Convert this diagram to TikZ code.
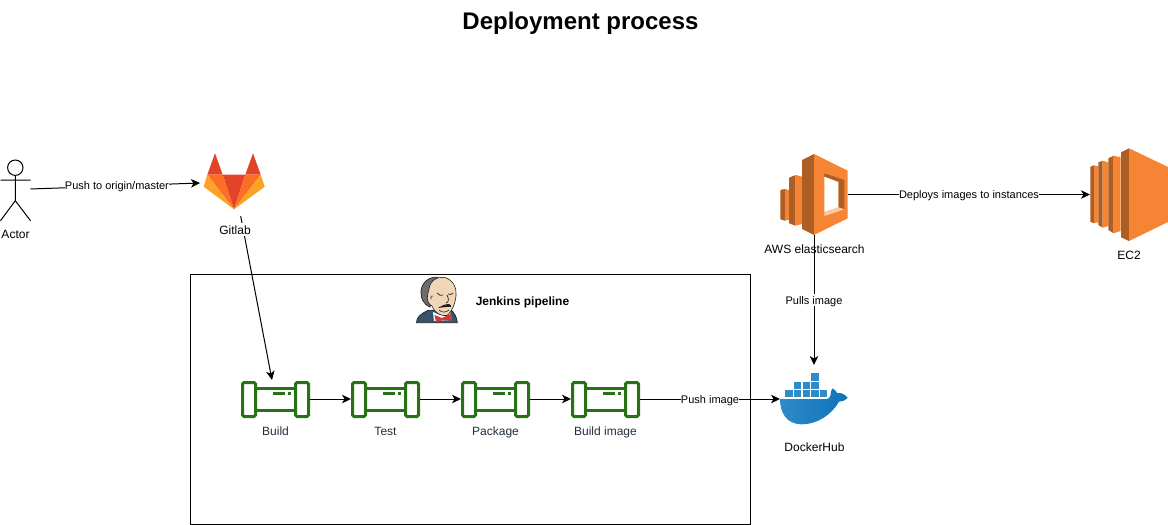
\documentclass[tikz,border=0pt]{standalone}
\usepackage{fontspec}
\setmainfont{Liberation Sans}
\usetikzlibrary{arrows.meta}
\definecolor{awsl}{HTML}{F58534}
\definecolor{awsd}{HTML}{AD5E24}
\definecolor{awsw}{HTML}{FBC9A0}
\definecolor{pipeg}{HTML}{277116}
\definecolor{labelc}{HTML}{232F3E}
\definecolor{glr}{HTML}{E24329}
\definecolor{glo}{HTML}{FC6D26}
\definecolor{gll}{HTML}{FCA326}
\definecolor{dock}{HTML}{2F8AC9}
\definecolor{dockb}{HTML}{0F72B8}
\definecolor{jcoat}{HTML}{33546E}
\definecolor{jline}{HTML}{231F20}
\definecolor{jskin}{HTML}{F0D6B7}
\definecolor{jhair}{HTML}{6E6B6D}
\definecolor{jred}{HTML}{D33833}
\tikzset{
  x=1pt,y=-1pt,
  every node/.style={font=\fontsize{11}{13}\selectfont,inner sep=0pt,outer sep=0pt},
  tip/.style={-{Stealth[length=9pt,width=8.5pt,inset=2.5pt]}},
  conn/.style={draw=black,line width=1pt,tip},
  edgelabel/.style={fill=white,font=\fontsize{11}{13}\selectfont,inner xsep=0pt,inner ysep=2pt,text height=8pt,text depth=0pt},
  iconlabel/.style={font=\fontsize{12}{14}\selectfont,anchor=base},
  box/.style={draw=black,line width=1pt,fill=white},
  pipepart/.style={draw=pipeg,line width=3pt,fill=white,rounded corners=1.5pt},
  pipenode/.style={minimum width=69pt,minimum height=36pt,anchor=north west},
  pipelabel/.style={font=\fontsize{12}{14}\selectfont,text=labelc,anchor=base},
  pics/pipe/.style={code={
    \draw[pipepart,rounded corners=0pt] (13,6) rectangle (53,27.5);
    \draw[pipepart] (0,0) rectangle (13,34);
    \draw[pipepart] (53,0) rectangle (66,34);
    \draw[draw=pipeg,line width=3pt] (30.5,10.5) -- (42.5,10.5) (45.5,10.5) -- (48.5,10.5);
  }},
}
\begin{document}
\begin{tikzpicture}
\useasboundingbox (0,0) rectangle (1168,525);
\fill[white] (0,0) rectangle (1168,525);

% title
\node[font=\fontsize{24}{28}\selectfont\bfseries,anchor=base] (title) at (580.5,29) {Deployment process};

% jenkins box
\node[box,minimum width=560pt,minimum height=250pt,anchor=north west] (pipeline) at (190.5,274) {};
\node[font=\fontsize{12}{14}\selectfont\bfseries,anchor=base] (pipelabel) at (522.5,305.5) {Jenkins pipeline};

% actor
\node[minimum width=30pt,minimum height=61pt] (actor) at (15.5,190) {};
\draw[line width=1pt] (15.3,167.7) circle (7.7);
\draw[line width=1pt] (15.3,175.4) -- (15.3,200.7) (0.5,180) -- (30.5,180)
  (0.5,220.7) -- (15.3,200.7) -- (30.5,220.7);
\node[iconlabel] (actorlabel) at (15.5,238.5) {Actor};

% gitlab
\node[minimum width=68pt,minimum height=57pt] (gitlab) at (234,181) {};
\fill[glr] (215,153.3) -- (222.7,174.7) -- (207.3,174.7) -- cycle;
\fill[glr] (253,153.3) -- (260.7,174.7) -- (245.3,174.7) -- cycle;
\fill[glr] (222.7,174.7) -- (245.3,174.7) -- (234,209.3) -- cycle;
\fill[glo] (207.3,174.7) -- (222.7,174.7) -- (234,209.3) -- cycle;
\fill[glo] (260.7,174.7) -- (245.3,174.7) -- (234,209.3) -- cycle;
\fill[gll] (207.3,174.7) -- (203.7,186.7) -- (234,209.3) -- cycle;
\fill[gll] (260.7,174.7) -- (264.7,186.7) -- (234,209.3) -- cycle;

% elastic beanstalk icon
\node[minimum width=68pt,minimum height=81pt] (aws) at (814,194.5) {};
\fill[awsd] (780.3,190) -- (785,189) -- (785,220.7) -- (780.3,219.3) -- cycle;
\fill[awsl] (785,189) -- (789,190) -- (789,219.7) -- (785,220.7) -- cycle;
\fill[awsd] (789,177.7) -- (795.7,175) -- (795.7,225.7) -- (789,223.3) -- cycle;
\fill[awsl] (795.7,175) -- (802,176.7) -- (802,224) -- (795.7,225.7) -- cycle;
\fill[awsd] (802,160) -- (814,154) -- (814,235) -- (802,229) -- cycle;
\fill[awsl] (814,154) -- (847.7,170.7) -- (847.7,218.3) -- (814,235) -- cycle;
\fill[awsd] (824.3,173.3) -- (844.3,180) -- (838.3,182) -- (824.3,176.7) -- cycle;
\fill[awsd] (844.3,180) -- (844.3,209.3) -- (838.3,207.3) -- (838.3,182) -- cycle;
\fill[awsw] (824.3,216) -- (844.3,209.3) -- (838.3,207.3) -- (824.3,211.7) -- cycle;
\fill[white] (824.3,176.7) -- (838.3,182) -- (838.3,207.3) -- (824.3,211.7) -- cycle;
\node[iconlabel] (awslabel) at (814.5,253.3) {AWS elasticsearch};

% ec2 icon
\node[minimum width=78pt,minimum height=93pt,anchor=west] (ec2) at (1090,194.5) {};
\fill[awsd] (1090.3,166.7) -- (1094,165.3) -- (1094,223.3) -- (1090.3,221.7) -- cycle;
\fill[awsl] (1094,165.3) -- (1098.3,166.3) -- (1098.3,222.3) -- (1094,223.3) -- cycle;
\fill[awsd] (1098.3,162.3) -- (1102.7,160.7) -- (1102.7,227.7) -- (1098.3,225) -- cycle;
\fill[awsl] (1102.7,160.7) -- (1108.3,162.3) -- (1108.3,226) -- (1102.7,227.7) -- cycle;
\fill[awsd] (1108.3,158.3) -- (1113.7,155.7) -- (1113.7,233.3) -- (1108.3,230) -- cycle;
\fill[awsl] (1113.7,155.7) -- (1120.7,157.3) -- (1120.7,231) -- (1113.7,233.3) -- cycle;
\fill[awsd] (1121,152.3) -- (1129,148.3) -- (1129,241) -- (1121,237.3) -- cycle;
\fill[awsl] (1129,148.3) -- (1168,167) -- (1168,222) -- (1129,241) -- cycle;
\node[iconlabel] (ec2label) at (1129,259.3) {EC2};

% docker
\node[minimum width=68pt,minimum height=68pt] (docker) at (814,399) {};
\shade[left color=dock,right color=dockb] (780,399) -- (827,399) .. controls (829,399) and (830,397) .. (830.5,395)
  .. controls (830.5,392) and (831,390) .. (832.7,388.3)
  .. controls (835,390) and (836.5,391.5) .. (837.3,393.3)
  .. controls (840,392.5) and (843.5,393) .. (847.7,397.7)
  .. controls (845,400.5) and (842.5,401.7) .. (839,401.7)
  .. controls (832,414) and (818,424.3) .. (801.7,424.3)
  .. controls (786,424.3) and (780,412) .. (780,399) -- cycle;
\foreach \bx/\by in {785.3/390,794/390,802.7/390,811.3/390,820/390,794/381.7,802.7/381.7,811.3/381.7,811.3/373.3}
  \fill[dock] (\bx,\by) rectangle ++(7.4,7.4);
\node[iconlabel] (dockerlabel) at (814.5,451.3) {DockerHub};

% jenkins mascot
\node[minimum width=42pt,minimum height=46pt] (jenkins) at (437,300) {};
\filldraw[fill=jcoat,draw=jline,line width=.7pt]
  (416.5,322.7) .. controls (416.5,317.5) and (420,314) .. (428,310.5)
  -- (450,309) .. controls (455,313) and (457,318) .. (457.3,322.7) -- cycle;
\fill[white] (433,312) -- (440,315) -- (450,312) -- (452,320) -- (434,321) -- cycle;
\filldraw[fill=jhair,draw=jline,line width=.7pt]
  (438,277.3) .. controls (429,276.5) and (422,282) .. (421,291)
  .. controls (420.5,298) and (423,304) .. (430,307)
  .. controls (432,303) and (431,290) .. (438,277.3) -- cycle;
\filldraw[fill=jskin,draw=jline,line width=.6pt]
  (429,289) .. controls (430,281) and (436,277) .. (443,277.3)
  .. controls (451,278) and (456,285) .. (456,293)
  .. controls (456.5,301) and (452,312) .. (447,315.5)
  .. controls (441,316.5) and (435,313) .. (432,306)
  .. controls (429,305) and (426.5,300) .. (427.5,296)
  .. controls (428,293) and (428.5,291) .. (429,289) -- cycle;
\draw[line width=.6pt,jline] (431,299) .. controls (430,296.5) and (431.5,295) .. (433,296);
\draw[line width=.7pt,jline] (437,293) .. controls (439,295.5) and (441,296) .. (443,295)
  (448,294) .. controls (450,295) and (452,294.5) .. (453,293)
  (447,295) .. controls (449,299) and (449,302) .. (446,303);
\fill[jline] (438,308) .. controls (441,306) and (445,304) .. (449,304)
  .. controls (451,304.5) and (451.5,306) .. (451,307)
  .. controls (447,306.5) and (442,307.5) .. (438,308) -- cycle;
\draw[line width=.6pt,jline] (439,310) .. controls (442,313) and (446,312.5) .. (449,310);
\fill[jred] (434.5,315) -- (442,318) -- (451,314) -- (452,320.5) -- (443.5,320)
  -- (436,322) -- cycle;

% pipeline stages
\node[pipenode] (build) at (241,381) {};
\pic at (242.5,382.5) {pipe};
\node[pipelabel] (buildlabel) at (275.5,435.7) {Build};
\node[pipenode] (test) at (351,381) {};
\pic at (352.5,382.5) {pipe};
\node[pipelabel] (testlabel) at (385.5,435.7) {Test};
\node[pipenode] (package) at (461,381) {};
\pic at (462.5,382.5) {pipe};
\node[pipelabel] (packagelabel) at (495.5,435.7) {Package};
\node[pipenode] (image) at (571,381) {};
\pic at (572.5,382.5) {pipe};
\node[pipelabel] (imagelabel) at (605.5,435.7) {Build image};

% connectors
\draw[conn] ([yshift=1pt]actor.east) -- node[edgelabel,pos=.51] {Push to origin/master} ([yshift=-2pt]gitlab.west);
\draw[conn] ([shift={(6.7,6.7)}]gitlab.south) -- ([shift={(-3.5pt,1pt)}]build.north);
\node[iconlabel,fill=white,inner xsep=1pt,inner ysep=2pt] (gitlablabel) at (235,234) {Gitlab};
\draw[conn] (build.east) -- (test.west);
\draw[conn] (test.east) -- (package.west);
\draw[conn] (package.east) -- (image.west);
\draw[conn] (image.east) -- node[edgelabel,pos=.5] {Push image} (docker.west);
\draw[conn] (aws.east) -- node[edgelabel,pos=.5] {Deploys images to instances} (ec2.west);
\draw[conn] (aws.south) -- node[edgelabel,pos=.5] {Pulls image} (docker.north);
\end{tikzpicture}
\end{document}
